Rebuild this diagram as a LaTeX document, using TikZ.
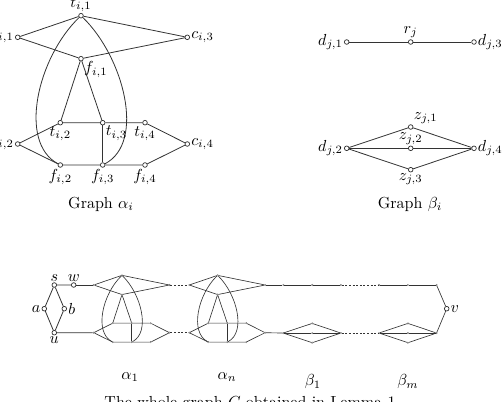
\documentclass[tikz,border=0pt]{standalone}
\newcommand{\alphaNodes}[2]{%
 \node[#2] (#1c1) at (0,0) {};
 \node[#2] (#1t1) at (63.3,-21.6) {};
 \node[#2] (#1c3) at (169.6,0) {};
 \node[#2] (#1f1) at (63.3,21.4) {};
 \node[#2] (#1t2) at (42.6,85.4) {};
 \node[#2] (#1t3) at (85,85.4) {};
 \node[#2] (#1t4) at (127.3,85.4) {};
 \node[#2] (#1c2) at (0,106.7) {};
 \node[#2] (#1c4) at (169.6,106.7) {};
 \node[#2] (#1f2) at (42.6,127.7) {};
 \node[#2] (#1f3) at (85,127.7) {};
 \node[#2] (#1f4) at (127.3,127.7) {};}
\newcommand{\alphaEdges}[2]{%
 \draw[#2] (#1t1) -- (#1c1) -- (#1f1) -- (#1c3) -- (#1t1);
 \draw[#2] (#1t2) -- (#1f1) -- (#1t3) -- (#1t2);
 \draw[#2] (#1t3) -- (#1t4) -- (#1c4) -- (#1f4) -- (#1f3) -- (#1f2) -- (#1c2) -- (#1t2);
 \draw[#2] (#1t3) -- (#1f3);
 \draw[#2] (#1t1) .. controls +(-43.3,41.6) and +(-42.6,-22.7) .. (#1f2);
 \draw[#2] (#1t1) .. controls +(42.7,41.6) and +(43,-22.7) .. (#1f3);}
\newcommand{\betaNodes}[2]{%
 \node[#2] (#1d1) at (0,0) {};
 \node[#2] (#1r) at (64,0) {};
 \node[#2] (#1d3) at (127.3,0) {};
 \node[#2] (#1d2) at (0,106.3) {};
 \node[#2] (#1z1) at (64,85) {};
 \node[#2] (#1z2) at (64,106.3) {};
 \node[#2] (#1z3) at (64,127.7) {};
 \node[#2] (#1d4) at (127.3,106.3) {};}
\newcommand{\betaEdges}[2]{%
 \draw[#2] (#1d1) -- (#1r) -- (#1d3);
 \draw[#2] (#1d2) -- (#1z1) -- (#1d4);
 \draw[#2] (#1d2) -- (#1z2) -- (#1d4);
 \draw[#2] (#1d2) -- (#1z3) -- (#1d4);}
\begin{document}
\begin{tikzpicture}[x=0.625pt,y=-0.625pt,
  edge/.style={line width=0.5pt, draw=black!80},
  miniedge/.style={line width=0.4pt, draw=black!80},
  dashedge/.style={line width=0.4pt, draw=black!80, dash pattern=on 1.25pt off 1pt},
  bigv/.style={circle, draw=black!80, fill=white, line width=0.45pt, inner sep=0pt, minimum size=2.9pt},
  smallv/.style={circle, draw=black!60, fill=white, line width=0.2pt, inner sep=0pt, minimum size=1pt},
  lab/.style={inner sep=0.6pt}]
\useasboundingbox (0,0) rectangle (503,402);
% ---- Graph alpha_i
\begin{scope}[shift={(17.7,37.3)}]
 \alphaNodes{A}{bigv}
 \alphaEdges{A}{edge}
\end{scope}
\node[lab, anchor=south] (LAt1) at (At1.north) {$t_{i,1}$};
\node[lab, anchor=east] (LAc1) at (Ac1.west) {$c_{i,1}$};
\node[lab, anchor=west] (LAc3) at (Ac3.east) {$c_{i,3}$};
\node[lab, anchor=north west] (LAf1) at (Af1.south east) {$f_{i,1}$};
\node[lab, anchor=north] (LAt2) at (At2.south) {$t_{i,2}$};
\node[lab, anchor=north west] (LAt3) at (At3.south east) {$t_{i,3}$};
\node[lab, anchor=north] (LAt4) at (At4.south) {$t_{i,4}$};
\node[lab, anchor=east] (LAc2) at (Ac2.west) {$c_{i,2}$};
\node[lab, anchor=west] (LAc4) at (Ac4.east) {$c_{i,4}$};
\node[lab, anchor=north] (LAf2) at (Af2.south) {$f_{i,2}$};
\node[lab, anchor=north] (LAf3) at (Af3.south) {$f_{i,3}$};
\node[lab, anchor=north] (LAf4) at (Af4.south) {$f_{i,4}$};
\node (capA) at (101,204) {Graph $\alpha_i$};
% ---- Graph beta_i
\begin{scope}[shift={(346.7,42)}]
 \betaNodes{B}{bigv}
 \betaEdges{B}{edge}
\end{scope}
\node[lab, anchor=east] (LBd1) at (Bd1.west) {$d_{j,1}$};
\node[lab, anchor=south] (LBr) at (Br.north) {$r_j$};
\node[lab, anchor=west] (LBd3) at (Bd3.east) {$d_{j,3}$};
\node[lab, anchor=east] (LBd2) at (Bd2.west) {$d_{j,2}$};
\node[lab, anchor=west] (LBd4) at (Bd4.east) {$d_{j,4}$};
\node[lab, anchor=south west] (LBz1) at (Bz1.north east) {$z_{j,1}$};
\node[lab, anchor=south] (LBz2) at (Bz2.north) {$z_{j,2}$};
\node[lab, anchor=north] (LBz3) at (Bz3.south) {$z_{j,3}$};
\node (capB) at (410,204) {Graph $\beta_i$};
% ---- whole graph
\node[bigv] (s) at (54.3,285) {};
\node[bigv] (w) at (73.7,285) {};
\node[bigv] (a) at (44.3,308.7) {};
\node[bigv] (b) at (64.3,308.7) {};
\node[bigv] (u) at (54.3,332.7) {};
\node[bigv] (v) at (446.7,308.7) {};
\node[lab, anchor=south] (Ls) at (s.north) {$s$};
\node[lab, anchor=south] (Lw) at (w.north) {$w$};
\node[lab, anchor=east] (La) at (a.west) {$a$};
\node[lab, anchor=west] (Lb) at (b.east) {$b$};
\node[lab, anchor=north] (Lu) at (u.south) {$u$};
\node[lab, anchor=west] (Lv) at (v.east) {$v$};
\begin{scope}[shift={(93.7,285)}, scale=0.447]
 \alphaNodes{P}{smallv}
 \alphaEdges{P}{miniedge}
\end{scope}
\begin{scope}[shift={(189.3,285)}, scale=0.447]
 \alphaNodes{Q}{smallv}
 \alphaEdges{Q}{miniedge}
\end{scope}
\begin{scope}[shift={(283.3,285)}, scale=0.452]
 \betaNodes{R}{smallv}
 \betaEdges{R}{miniedge}
\end{scope}
\begin{scope}[shift={(379,285)}, scale=0.452]
 \betaNodes{S}{smallv}
 \betaEdges{S}{miniedge}
\end{scope}
\draw[edge] (s) -- (a) -- (u) -- (b) -- (s) -- (w);
\draw[miniedge] (w) -- (Pc1);
\draw[miniedge] (u) -- (Pc2);
\draw[dashedge] (Pc3) -- (Qc1);
\draw[dashedge] (Pc4) -- (Qc2);
\draw[miniedge] (Qc3) -- (Rd1);
\draw[miniedge] (Qc4) -- (Rd2);
\draw[dashedge] (Rd3) -- (Sd1);
\draw[dashedge] (Rd4) -- (Sd2);
\draw[miniedge] (Sd3) -- (v) -- (Sd4);
\node (L1) at (130,377) {$\alpha_1$};
\node (L2) at (227,377) {$\alpha_n$};
\node (L3) at (313,381.7) {$\beta_1$};
\node (L4) at (408,381.7) {$\beta_m$};
\node[anchor=base] (capG) at (250,407) {The whole graph $G$ obtained in Lemma 1};
\end{tikzpicture}
\end{document}
